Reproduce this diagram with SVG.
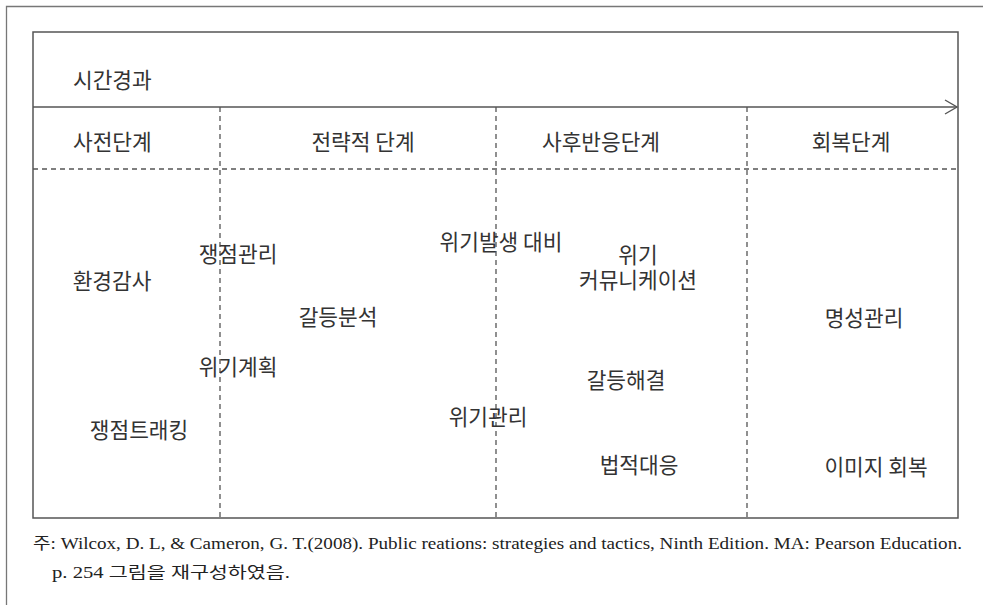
<svg xmlns="http://www.w3.org/2000/svg" width="983" height="605" viewBox="0 0 983 605">
<style>
.t{font-family:"Noto Sans CJK KR","Noto Sans",sans-serif;font-size:21.4px;fill:#333;dominant-baseline:central}
.m{text-anchor:middle}
.fn{font-family:"Liberation Serif","Noto Sans CJK KR",serif;font-size:16px;fill:#222}
.d{stroke:#555;stroke-width:1.3;stroke-dasharray:5,4;fill:none}
</style>
<rect width="983" height="605" fill="#fff"/>
<path d="M6.5 605V6.5H983" fill="none" stroke="#777" stroke-width="1.3"/>
<g id="frame">
<rect x="33" y="32" width="925" height="486" fill="none" stroke="#555" stroke-width="1.5"/>
</g>
<g id="connectors">
<line x1="33" y1="107" x2="957" y2="107" stroke="#555" stroke-width="1.5"/>
<path d="M945 100L957 107L945 114" fill="none" stroke="#555" stroke-width="1.4"/>
<line class="d" x1="33" y1="169" x2="958" y2="169"/>
<line class="d" x1="220" y1="107" x2="220" y2="518"/>
<line class="d" x1="496" y1="107" x2="496" y2="518"/>
<line class="d" x1="747" y1="107" x2="747" y2="518"/>
</g>
<g id="header">
<text class="t" x="73" y="78">시간경과</text>
<text class="t" x="73" y="140">사전단계</text>
<text class="t m" x="363" y="140">전략적 단계</text>
<text class="t m" x="601" y="140">사후반응단계</text>
<text class="t m" x="851" y="140">회복단계</text>
</g>
<g id="n1"><text class="t m" x="112" y="279">환경감사</text></g>
<g id="n2"><text class="t m" x="139" y="428">쟁점트래킹</text></g>
<g id="n3"><text class="t m" x="238" y="252">쟁점관리</text></g>
<g id="n4"><text class="t m" x="238" y="365">위기계획</text></g>
<g id="n5"><text class="t m" x="338" y="315">갈등분석</text></g>
<g id="n6"><text class="t m" x="501" y="240">위기발생 대비</text></g>
<g id="n7"><text class="t m" x="488" y="415">위기관리</text></g>
<g id="n8"><text class="t m" x="638" y="253">위기</text><text class="t m" x="638" y="278">커뮤니케이션</text></g>
<g id="n9"><text class="t m" x="626" y="378">갈등해결</text></g>
<g id="n10"><text class="t m" x="639" y="463">법적대응</text></g>
<g id="n11"><text class="t m" x="864" y="316">명성관리</text></g>
<g id="n12"><text class="t m" x="876" y="465">이미지 회복</text></g>
<g id="note">
<text class="fn" x="33" y="549" textLength="929" lengthAdjust="spacingAndGlyphs">주: Wilcox, D. L, &amp; Cameron, G. T.(2008). Public reations: strategies and tactics, Ninth Edition. MA: Pearson Education.</text>
<text class="fn" x="52" y="578" textLength="238" lengthAdjust="spacingAndGlyphs">p. 254 그림을 재구성하였음.</text>
</g>
</svg>
